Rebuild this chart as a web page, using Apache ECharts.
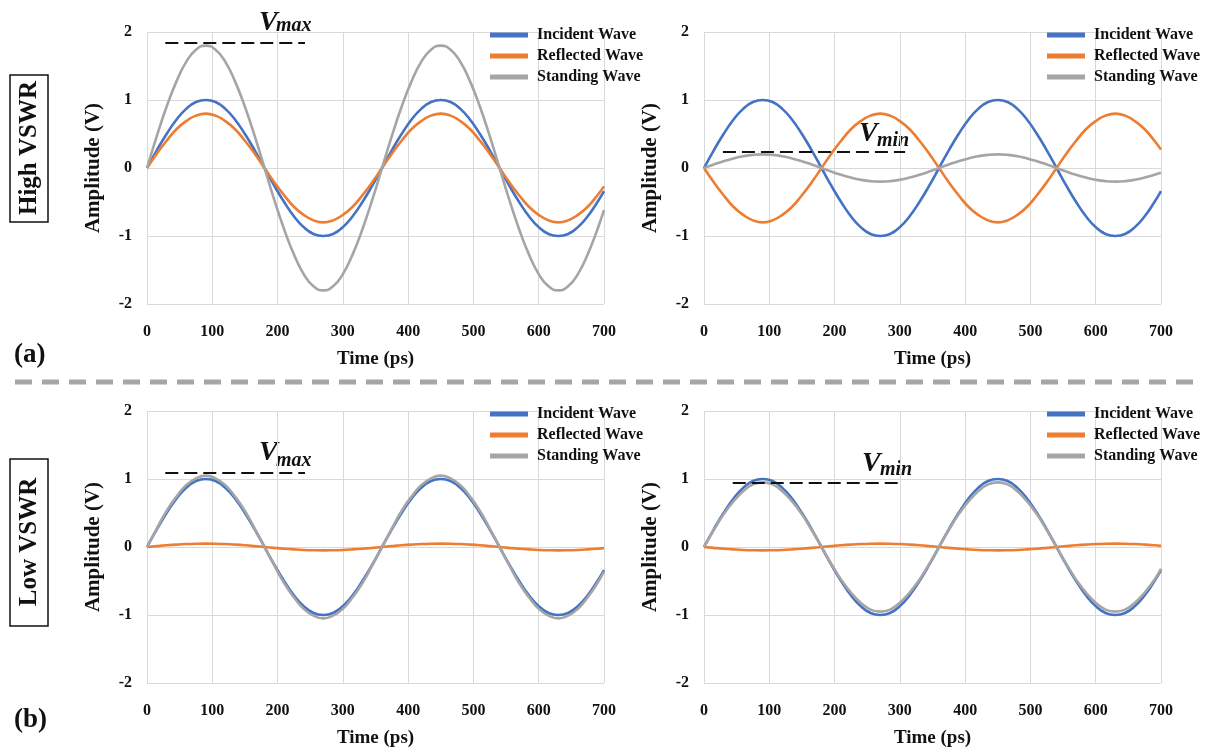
<!DOCTYPE html>
<html><head><meta charset="utf-8">
<script src="https://cdn.jsdelivr.net/npm/echarts@6/dist/echarts.min.js"></script>
<style>html,body{margin:0;padding:0;background:#fff}#c{width:1205px;height:754px}</style>
</head><body><div id="c"></div>
<script>
// ---- data ----
const timePs = [0,15,30,45,60,75,90,105,120,135,150,165,180,195,210,225,240,255,270,285,300,315,330,345,360,375,390,405,420,435,450,465,480,495,510,525,540,555,570,585,600,615,630,645,660,675,690,700];
const incident = [0,0.26,0.5,0.71,0.87,0.97,1,0.97,0.87,0.71,0.5,0.26,0,-0.26,-0.5,-0.71,-0.87,-0.97,-1,-0.97,-0.87,-0.71,-0.5,-0.26,0,0.26,0.5,0.71,0.87,0.97,1,0.97,0.87,0.71,0.5,0.26,0,-0.26,-0.5,-0.71,-0.87,-0.97,-1,-0.97,-0.87,-0.71,-0.5,-0.34];
const reflHighMax = [0,0.21,0.4,0.57,0.69,0.77,0.8,0.77,0.69,0.57,0.4,0.21,0,-0.21,-0.4,-0.57,-0.69,-0.77,-0.8,-0.77,-0.69,-0.57,-0.4,-0.21,0,0.21,0.4,0.57,0.69,0.77,0.8,0.77,0.69,0.57,0.4,0.21,0,-0.21,-0.4,-0.57,-0.69,-0.77,-0.8,-0.77,-0.69,-0.57,-0.4,-0.27];
const standHighMax = [0,0.47,0.9,1.27,1.56,1.74,1.8,1.74,1.56,1.27,0.9,0.47,0,-0.47,-0.9,-1.27,-1.56,-1.74,-1.8,-1.74,-1.56,-1.27,-0.9,-0.47,0,0.47,0.9,1.27,1.56,1.74,1.8,1.74,1.56,1.27,0.9,0.47,0,-0.47,-0.9,-1.27,-1.56,-1.74,-1.8,-1.74,-1.56,-1.27,-0.9,-0.62];
const reflHighMin = [0,-0.21,-0.4,-0.57,-0.69,-0.77,-0.8,-0.77,-0.69,-0.57,-0.4,-0.21,0,0.21,0.4,0.57,0.69,0.77,0.8,0.77,0.69,0.57,0.4,0.21,0,-0.21,-0.4,-0.57,-0.69,-0.77,-0.8,-0.77,-0.69,-0.57,-0.4,-0.21,0,0.21,0.4,0.57,0.69,0.77,0.8,0.77,0.69,0.57,0.4,0.27];
const standHighMin = [0,0.052,0.1,0.141,0.173,0.193,0.2,0.193,0.173,0.141,0.1,0.052,0,-0.052,-0.1,-0.141,-0.173,-0.193,-0.2,-0.193,-0.173,-0.141,-0.1,-0.052,0,0.052,0.1,0.141,0.173,0.193,0.2,0.193,0.173,0.141,0.1,0.052,0,-0.052,-0.1,-0.141,-0.173,-0.193,-0.2,-0.193,-0.173,-0.141,-0.1,-0.068];
const reflLowMax = [0,0.013,0.025,0.035,0.043,0.048,0.05,0.048,0.043,0.035,0.025,0.013,0,-0.013,-0.025,-0.035,-0.043,-0.048,-0.05,-0.048,-0.043,-0.035,-0.025,-0.013,0,0.013,0.025,0.035,0.043,0.048,0.05,0.048,0.043,0.035,0.025,0.013,0,-0.013,-0.025,-0.035,-0.043,-0.048,-0.05,-0.048,-0.043,-0.035,-0.025,-0.017];
const standLowMax = [0,0.27,0.53,0.74,0.91,1.01,1.05,1.01,0.91,0.74,0.53,0.27,0,-0.27,-0.53,-0.74,-0.91,-1.01,-1.05,-1.01,-0.91,-0.74,-0.53,-0.27,0,0.27,0.53,0.74,0.91,1.01,1.05,1.01,0.91,0.74,0.53,0.27,0,-0.27,-0.53,-0.74,-0.91,-1.01,-1.05,-1.01,-0.91,-0.74,-0.53,-0.36];
const reflLowMin = [0,-0.013,-0.025,-0.035,-0.043,-0.048,-0.05,-0.048,-0.043,-0.035,-0.025,-0.013,0,0.013,0.025,0.035,0.043,0.048,0.05,0.048,0.043,0.035,0.025,0.013,0,-0.013,-0.025,-0.035,-0.043,-0.048,-0.05,-0.048,-0.043,-0.035,-0.025,-0.013,0,0.013,0.025,0.035,0.043,0.048,0.05,0.048,0.043,0.035,0.025,0.017];
const standLowMin = [0,0.25,0.48,0.67,0.82,0.92,0.95,0.92,0.82,0.67,0.48,0.25,0,-0.25,-0.48,-0.67,-0.82,-0.92,-0.95,-0.92,-0.82,-0.67,-0.48,-0.25,0,0.25,0.48,0.67,0.82,0.92,0.95,0.92,0.82,0.67,0.48,0.25,0,-0.25,-0.48,-0.67,-0.82,-0.92,-0.95,-0.92,-0.82,-0.67,-0.48,-0.32];
// dashed reference lines [time, amplitude]
const refLineTL = [[28,1.84],[242,1.84]];
const refLineTR = [[29,0.235],[308,0.235]];
const refLineBL = [[28,1.09],[242,1.09]];
const refLineBR = [[44,0.94],[305,0.94]];
const seriesNames = ['Incident Wave','Reflected Wave','Standing Wave'];
const xTicks = [0,100,200,300,400,500,600,700];
const yTicks = [-2,-1,0,1,2];

// ---- chart ----
const SERIF = '"Liberation Serif","DejaVu Serif",serif';
const colors = ['#4472C4','#ED7D31','#A5A5A5'];
const panels = [
  {left:147, top:32, data:[incident, reflHighMax, standHighMax], ref:refLineTL, legendLeft:490},
  {left:704, top:32, data:[incident, reflHighMin, standHighMin], ref:refLineTR, legendLeft:1047},
  {left:147, top:411, data:[incident, reflLowMax, standLowMax], ref:refLineBL, legendLeft:490},
  {left:704, top:411, data:[incident, reflLowMin, standLowMin], ref:refLineBR, legendLeft:1047}
];
const zip = arr => timePs.map((t,i)=>[t, arr[i]]);
const grid=[], xAxis=[], yAxis=[], series=[], legend=[];
panels.forEach((p,k)=>{
  grid.push({left:p.left, top:p.top, width:457, height:272});
  xAxis.push({type:'value', gridIndex:k, min:xTicks[0], max:xTicks[xTicks.length-1], interval:100,
    name:'Time (ps)', nameLocation:'middle', nameGap:46,
    nameTextStyle:{fontFamily:SERIF, fontWeight:'bold', fontSize:19, color:'#111'},
    axisLine:{show:false}, axisTick:{show:false},
    axisLabel:{margin:20, fontFamily:SERIF, fontWeight:'bold', fontSize:16, color:'#111'},
    splitLine:{show:true, lineStyle:{color:'#d9d9d9', width:1}}});
  yAxis.push({type:'value', gridIndex:k, min:yTicks[0], max:yTicks[yTicks.length-1], interval:1,
    name:'Amplitude (V)', nameLocation:'middle', nameGap:43,
    nameTextStyle:{fontFamily:SERIF, fontWeight:'bold', fontSize:21, color:'#111'},
    axisLine:{show:false}, axisTick:{show:false},
    axisLabel:{margin:15, fontFamily:SERIF, fontWeight:'bold', fontSize:16, color:'#111'},
    splitLine:{show:true, lineStyle:{color:'#d9d9d9', width:1}}});
  p.data.forEach((arr,j)=>{
    const s = {type:'line', name:seriesNames[j], xAxisIndex:k, yAxisIndex:k, data:zip(arr),
      smooth:0.5, showSymbol:false, symbol:'none', color:colors[j],
      lineStyle:{color:colors[j], width:2.6}, z:2+j, animation:false};
    if(j===2){
      s.markLine = {silent:true, symbol:['none','none'], label:{show:false},
        lineStyle:{color:'#111', width:2, type:[13,6]}, animation:false,
        data:[[{coord:p.ref[0]},{coord:p.ref[1]}]]};
    }
    series.push(s);
  });
  legend.push({orient:'vertical', left:p.legendLeft, top:p.top-5, padding:0, itemWidth:38, itemHeight:5, itemGap:5,
    icon:'rect', data:seriesNames.map((n,j)=>({name:n, itemStyle:{color:colors[j]}})),
    selectedMode:false,
    textStyle:{fontFamily:SERIF, fontWeight:'bold', fontSize:16, color:'#111', padding:[0,0,0,4]}});
});

const txt = (t,x,y,size,italic) => ({type:'text', x, y, style:{text:t, fill:'#111',
  font:(italic?'italic ':'')+'bold '+size+'px '+SERIF, align:'left', verticalAlign:'middle'}});
const graphic = [
  {type:'line', shape:{x1:15,y1:382,x2:1195,y2:382}, style:{stroke:'#a6a6a6', lineWidth:5, lineDash:[17,10]}},
  {type:'rect', shape:{x:10,y:75,width:38,height:147}, style:{stroke:'#111', lineWidth:1.5, fill:'#fff'}},
  {type:'text', x:30, y:148, rotation:Math.PI/2, style:{text:'High VSWR', fill:'#111', font:'bold 25px '+SERIF, align:'center', verticalAlign:'middle'}},
  {type:'rect', shape:{x:10,y:459,width:38,height:167}, style:{stroke:'#111', lineWidth:1.5, fill:'#fff'}},
  {type:'text', x:30, y:542, rotation:Math.PI/2, style:{text:'Low VSWR', fill:'#111', font:'bold 25px '+SERIF, align:'center', verticalAlign:'middle'}},
  txt('(a)', 14, 355, 27),
  txt('(b)', 14, 720, 27),
  txt('V', 259, 23, 28, true), txt('max', 276, 26, 20, true),
  txt('V', 859, 134, 28, true), txt('min', 877, 141, 20, true),
  txt('V', 259, 453, 28, true), txt('max', 276, 461, 20, true),
  txt('V', 862, 464, 28, true), txt('min', 880, 470, 20, true)
];

const chart = echarts.init(document.getElementById('c'), null, {renderer:'canvas'});
chart.setOption({backgroundColor:'#fff', animation:false, grid, xAxis, yAxis, series, legend, graphic});
</script></body></html>
